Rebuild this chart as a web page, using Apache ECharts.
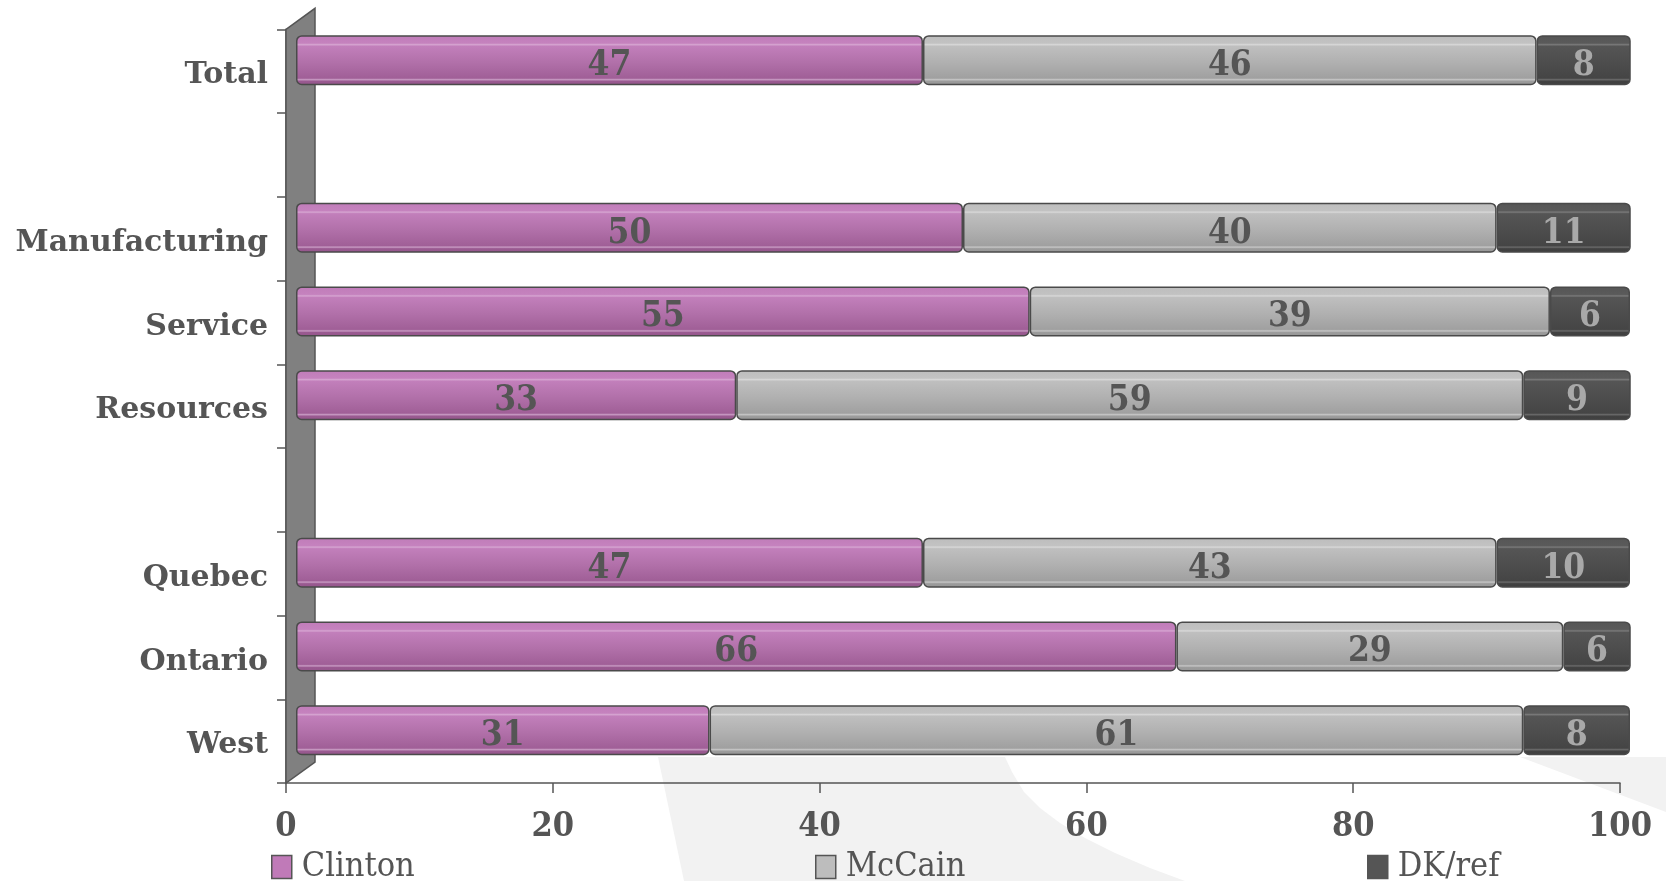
<!DOCTYPE html>
<html>
<head>
<meta charset="utf-8">
<style>
html,body{margin:0;padding:0;background:#fff;}
#c{width:1666px;height:881px;}
</style>
<script src="https://cdn.jsdelivr.net/npm/echarts@6/dist/echarts.min.js"></script>
</head>
<body>
<div id="c"></div>
<script>
var categories = ['Total', ' ', 'Manufacturing', 'Service', 'Resources', '  ', 'Quebec', 'Ontario', 'West'];
var clinton = [47, null, 50, 55, 33, null, 47, 66, 31];
var mccain  = [46, null, 40, 39, 59, null, 43, 29, 61];
var dkref   = [8,  null, 11, 6,  9,  null, 10, 6,  8];
var xTicks  = [0, 20, 40, 60, 80, 100];

var FONT = "'DejaVu Serif Condensed', 'DejaVu Serif', serif";
var FONT_CAT = "'DejaVu Serif', serif";
var TXT = '#555555';

function grad(stops) {
  return new echarts.graphic.LinearGradient(0, 0, 0, 1, stops.map(function (s) { return {offset: s[0], color: s[1]}; }));
}
var gClinton = grad([[0,'#c07cb9'],[0.16,'#c582be'],[0.19,'#d6a5d1'],[0.22,'#c27fbb'],[0.55,'#b170a9'],[0.86,'#a05f97'],[0.89,'#c89bc3'],[0.92,'#9a5a91'],[1,'#94568b']]);
var gMccain  = grad([[0,'#bdbdbd'],[0.16,'#c2c2c2'],[0.19,'#d8d8d8'],[0.22,'#bfbfbf'],[0.55,'#b0b0b0'],[0.86,'#a0a0a0'],[0.89,'#c6c6c6'],[0.92,'#9c9c9c'],[1,'#969696']]);
var gDk      = grad([[0,'#565656'],[0.16,'#5a5a5a'],[0.19,'#7a7a7a'],[0.22,'#555555'],[0.55,'#4d4d4d'],[0.86,'#454545'],[0.89,'#6a6a6a'],[0.92,'#424242'],[1,'#3e3e3e']]);

var G0 = {left: 286, top: 29.3, width: 1334, height: 753.7};
var DX = 10, DY = -11;

var chart = echarts.init(document.getElementById('c'), null, {renderer: 'canvas'});

function mkSeries(name, data, color, lblColor) {
  return {
    name: name, type: 'bar', stack: 'v', xAxisIndex: 1, yAxisIndex: 1,
    data: data, barWidth: 50, z: 5,
    itemStyle: {color: color, borderColor: '#4a4a4a', borderWidth: 1.5, borderRadius: 5},
    label: {show: true, position: 'inside', offset: [0, 6], color: lblColor, fontFamily: FONT, fontWeight: 'bold', fontSize: 35},
    emphasis: {disabled: true}
  };
}

var legendBase = {
  top: 845, itemWidth: 20, itemHeight: 23, icon: 'rect',
  textStyle: {fontFamily: FONT, fontSize: 34, color: TXT, padding: [0, 0, 0, 5]},
  selectedMode: false
};

chart.setOption({
  animation: false,
  backgroundColor: '#ffffff',
  grid: [
    {left: G0.left, top: G0.top, width: G0.width, height: G0.height},
    {left: G0.left + DX, top: G0.top + DY, width: G0.width, height: G0.height}
  ],
  xAxis: [
    {gridIndex: 0, type: 'value', min: xTicks[0], max: xTicks[xTicks.length - 1], interval: 20,
     axisLine: {show: true, lineStyle: {color: '#555', width: 1.5}},
     axisTick: {show: true, length: 10, lineStyle: {color: '#555', width: 1.5}},
     axisLabel: {margin: 27, color: TXT, fontFamily: FONT, fontWeight: 'bold', fontSize: 34},
     splitLine: {show: false}},
    {gridIndex: 1, type: 'value', min: 0, max: 100, show: false, splitLine: {show: false}}
  ],
  yAxis: [
    {gridIndex: 0, type: 'category', inverse: true, data: categories,
     axisLine: {show: true, lineStyle: {color: '#555', width: 1.5}},
     axisTick: {show: true, length: 9, interval: 0, lineStyle: {color: '#555', width: 1.5}},
     axisLabel: {margin: 18, interval: 0, color: TXT, fontFamily: FONT_CAT, fontWeight: 'bold', fontSize: 30, verticalAlign: 'top', lineHeight: 9},
     splitLine: {show: false}},
    {gridIndex: 1, type: 'category', inverse: true, data: categories, show: false}
  ],
  legend: [
    Object.assign({}, legendBase, {left: 266, data: [{name: 'Clinton', itemStyle: {color: '#c07ab8', borderColor: '#555', borderWidth: 1.5}}]}),
    Object.assign({}, legendBase, {left: 810, data: [{name: 'McCain', itemStyle: {color: '#bdbdbd', borderColor: '#555', borderWidth: 1.5}}]}),
    Object.assign({}, legendBase, {left: 1362, data: [{name: 'DK/ref', itemStyle: {color: '#555555', borderColor: '#555', borderWidth: 1.5}}]})
  ],
  series: [
    mkSeries('Clinton', clinton, gClinton, TXT),
    mkSeries('McCain', mccain, gMccain, TXT),
    mkSeries('DK/ref', dkref, gDk, '#a9a9a9')
  ]
});

// decorative wall and faint background swoosh
var xL = G0.left, yT = G0.top, yB = G0.top + G0.height;
var depth = 29, rise = 21;
var bgY = yB - 26;
var swoosh = [[658, bgY], [1005, bgY], [1012, 772], [1024, 792], [1040, 808], [1060, 823], [1085, 838], [1115, 853], [1150, 868], [1185, 881], [684, 881]];
chart.setOption({
  graphic: [
    {type: 'polygon', z: -10, silent: true, shape: {points: swoosh, smooth: 0}, style: {fill: '#f2f2f2'}},
    {type: 'polygon', z: -10, silent: true, shape: {points: [[1520, bgY], [1666, bgY], [1666, 812]]}, style: {fill: '#f2f2f2'}},
    {type: 'polygon', z: 1, silent: true,
     shape: {points: [[xL, yB], [xL, yT], [xL + depth, yT - rise], [xL + depth, yB - rise]]},
     style: {fill: '#808080', stroke: '#555', lineWidth: 1.5}}
  ]
});
</script>
</body>
</html>
